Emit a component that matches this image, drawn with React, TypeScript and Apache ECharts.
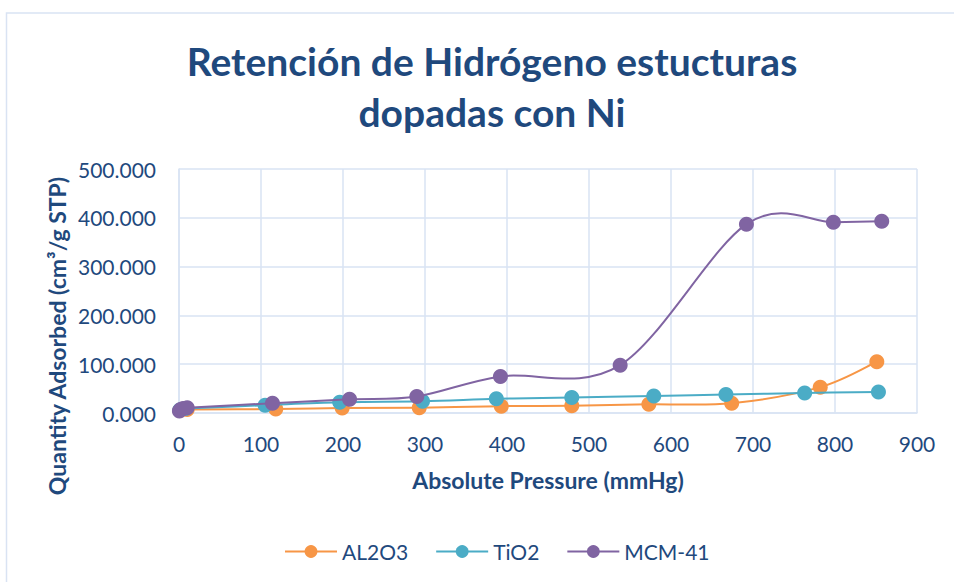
import React, { useEffect, useRef } from "react";
import * as echarts from "echarts";

const seriesNames = ["AL2O3", "TiO2", "MCM-41"];
const colors = ["#F79646", "#4BACC6", "#8064A2"];

const al2o3X = [1, 10, 118, 199, 293, 393, 479, 573, 674, 782, 851];
const al2o3Y = [5, 7, 8, 10, 11, 14, 15, 18, 20, 53, 105];

const tio2X = [1, 8, 105, 196, 297, 387, 479, 579, 667, 763, 853];
const tio2Y = [6, 9, 16, 22, 24, 29, 32, 35, 38, 41, 43];

const mcmX = [0.5, 2, 5, 10, 114, 208, 290, 392, 538, 692, 798, 857];
const mcmY = [4, 7, 9, 11, 20, 28, 34, 75, 98, 387, 391, 393];

const xTicks = { min: 0, max: 900, interval: 100 };
const yTicks = { min: 0, max: 500, interval: 100 };

const titleText = "Retención de Hidrógeno estucturas\ndopadas con Ni";
const xName = "Absolute Pressure (mmHg)";
const yName = "Quantity Adsorbed (cm³/g STP)";

const FONT = "Lato, 'Open Sans', sans-serif";
const TEXT = "#1F497D";
const GRID = "#D9E3F3";

function zip(xs: number[], ys: number[]) {
  return xs.map((x, i) => [x, ys[i]]);
}

export default function App() {
  const ref = useRef<HTMLDivElement>(null);
  useEffect(() => {
    if (!ref.current) return;
    const chart = echarts.init(ref.current, null, { renderer: "svg" });
    const datas = [zip(al2o3X, al2o3Y), zip(tio2X, tio2Y), zip(mcmX, mcmY)];

    // Excel-like smoothed line: Catmull-Rom style bezier between data points,
    // positioned with the chart's own scales via api.coord.
    const curveSeries = datas.map((pts, s) => ({
      name: seriesNames[s] + "-curve",
      type: "custom",
      silent: true,
      z: 2 + s * 2,
      data: pts.map((p, i) => [p[0], p[1], i]),
      encode: { x: 0, y: 1 },
      renderItem: (params: any, api: any) => {
        const i = params.dataIndex;
        if (i >= pts.length - 1) return null;
        const c = (k: number) => {
          const kk = Math.max(0, Math.min(pts.length - 1, k));
          return api.coord([pts[kk][0], pts[kk][1]]);
        };
        const p0 = c(i - 1);
        const p1 = c(i);
        const p2 = c(i + 1);
        const p3 = c(i + 2);
        const t = 1 / 6;
        return {
          type: "bezierCurve",
          shape: {
            x1: p1[0],
            y1: p1[1],
            cpx1: p1[0] + (p2[0] - p0[0]) * t,
            cpy1: p1[1] + (p2[1] - p0[1]) * t,
            cpx2: p2[0] - (p3[0] - p1[0]) * t,
            cpy2: p2[1] - (p3[1] - p1[1]) * t,
            x2: p2[0],
            y2: p2[1],
          },
          style: { fill: "none", stroke: colors[s], lineWidth: 2 },
        };
      },
    }));

    const pointSeries = seriesNames.map((name, i) => ({
      name,
      type: "line",
      data: datas[i],
      symbol: "circle",
      symbolSize: 15,
      showSymbol: true,
      lineStyle: { color: colors[i], width: 0, opacity: 0 },
      itemStyle: { color: colors[i], borderWidth: 0 },
      z: 3 + i * 2,
    }));

    chart.setOption({
      animation: false,
      backgroundColor: "#ffffff",
      textStyle: { fontFamily: FONT },
      graphic: [
        {
          type: "rect",
          shape: { x: 6.5, y: 13, width: 1000, height: 700 },
          style: { fill: "none", stroke: GRID, lineWidth: 1.5 },
          silent: true,
          z: -1,
        },
        {
          type: "text",
          x: 57,
          y: 336,
          rotation: Math.PI / 2,
          style: {
            text: yName,
            fontFamily: FONT,
            fontSize: 23,
            fontWeight: "bold",
            fill: TEXT,
            align: "center",
            verticalAlign: "middle",
          },
        },
      ],
      title: {
        text: titleText,
        left: 487,
        top: 30,
        textAlign: "center",
        textStyle: {
          fontFamily: FONT,
          fontSize: 39,
          fontWeight: "bold",
          color: TEXT,
          lineHeight: 51,
        },
      },
      legend: {
        data: seriesNames.map((n, i) => ({
          name: n,
          lineStyle: { color: colors[i], width: 2, opacity: 1 },
          itemStyle: { color: colors[i] },
        })),
        left: 279,
        top: 536,
        itemWidth: 52,
        itemHeight: 16,
        itemGap: 27,
        textStyle: { fontFamily: FONT, fontSize: 21, color: TEXT },
      },
      grid: { left: 179, top: 169, width: 738, height: 244, containLabel: false },
      xAxis: {
        type: "value",
        min: xTicks.min,
        max: xTicks.max,
        interval: xTicks.interval,
        name: xName,
        nameLocation: "middle",
        nameGap: 55,
        nameTextStyle: { fontFamily: FONT, fontSize: 23, fontWeight: "bold", color: TEXT },
        axisLine: { show: true, lineStyle: { color: GRID, width: 1.5 } },
        axisTick: { show: false },
        axisLabel: { fontFamily: FONT, fontSize: 21, color: TEXT, margin: 20 },
        splitLine: { show: true, lineStyle: { color: GRID, width: 1.5 } },
      },
      yAxis: {
        type: "value",
        min: yTicks.min,
        max: yTicks.max,
        interval: yTicks.interval,
        axisLine: { show: true, lineStyle: { color: GRID, width: 1.5 } },
        axisTick: { show: false },
        axisLabel: {
          fontFamily: FONT,
          fontSize: 21,
          color: TEXT,
          margin: 23,
          formatter: (v: number) => v.toFixed(3),
        },
        splitLine: { show: true, lineStyle: { color: GRID, width: 1.5 } },
      },
      series: [...curveSeries, ...pointSeries],
    });
    return () => chart.dispose();
  }, []);
  return (
    <div
      ref={ref}
      style={{ position: "fixed", left: 0, top: 0, width: 954, height: 582 }}
    />
  );
}
